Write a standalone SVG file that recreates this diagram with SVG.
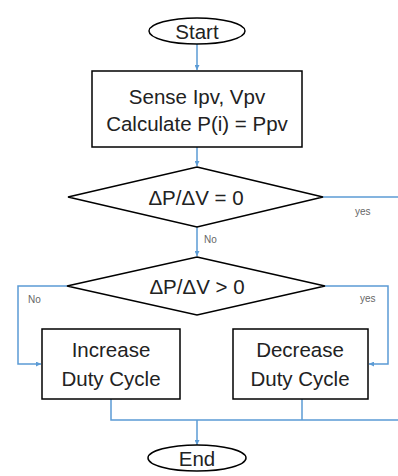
<svg xmlns="http://www.w3.org/2000/svg" width="398" height="476" viewBox="0 0 398 476">
<style>
.shape{fill:#fff;stroke:#000;stroke-width:1.5}
.t{font-family:"Liberation Sans",Arial,sans-serif;font-size:20.5px;fill:#222;text-anchor:middle;dominant-baseline:central}
.s{font-family:"Liberation Sans",Arial,sans-serif;font-size:10px;fill:#666}
.c{fill:none;stroke:#5B9BD5;stroke-width:1.5}
</style>
<defs>
<marker id="ah" viewBox="0 0 10 10" refX="10" refY="5" markerWidth="5" markerHeight="5" orient="auto" markerUnits="userSpaceOnUse">
<path d="M0,0 L10,5 L0,10 z" fill="#5B9BD5"/>
</marker>
</defs>
<g id="connectors">
<line class="c" x1="197" y1="44" x2="197" y2="70" marker-end="url(#ah)"/>
<line class="c" x1="197" y1="147" x2="197" y2="166" marker-end="url(#ah)"/>
<line class="c" x1="323" y1="197" x2="398" y2="197"/>
<line class="c" x1="197" y1="227" x2="197" y2="256" marker-end="url(#ah)"/>
<polyline class="c" points="67,286 18,286 18,364 41,364" marker-end="url(#ah)"/>
<polyline class="c" points="325,286 388,286 388,364 369,364" marker-end="url(#ah)"/>
<polyline class="c" points="111,399 111,420 398,420"/>
<line class="c" x1="302" y1="399" x2="302" y2="420"/>
<line class="c" x1="197" y1="420" x2="197" y2="445" marker-end="url(#ah)"/>
<text class="s" x="355" y="215">yes</text>
<text class="s" x="204" y="243">No</text>
<text class="s" x="28" y="303">No</text>
<text class="s" x="360" y="302">yes</text>
</g>
<g id="start">
<ellipse class="shape" cx="197" cy="31" rx="48" ry="13"/>
<text class="t" x="197" y="31">Start</text>
</g>
<g id="sense">
<rect class="shape" x="92" y="71" width="210" height="76"/>
<text class="t" x="197" y="96">Sense Ipv, Vpv</text>
<text class="t" x="197" y="123">Calculate P(i) = Ppv</text>
</g>
<g id="decision1">
<polygon class="shape" points="197,167 323,197 197,227 68,197"/>
<text class="t" x="196" y="197">ΔP/ΔV = 0</text>
</g>
<g id="decision2">
<polygon class="shape" points="197,257 325,286 197,315 67,286"/>
<text class="t" x="197" y="286">ΔP/ΔV &gt; 0</text>
</g>
<g id="increase">
<rect class="shape" x="42" y="329" width="138" height="70"/>
<text class="t" x="111" y="349">Increase</text>
<text class="t" x="111" y="378">Duty Cycle</text>
</g>
<g id="decrease">
<rect class="shape" x="233" y="329" width="135" height="70"/>
<text class="t" x="300" y="349">Decrease</text>
<text class="t" x="300" y="378">Duty Cycle</text>
</g>
<g id="end">
<ellipse class="shape" cx="197" cy="458" rx="49" ry="13"/>
<text class="t" x="197" y="458">End</text>
</g>
</svg>
